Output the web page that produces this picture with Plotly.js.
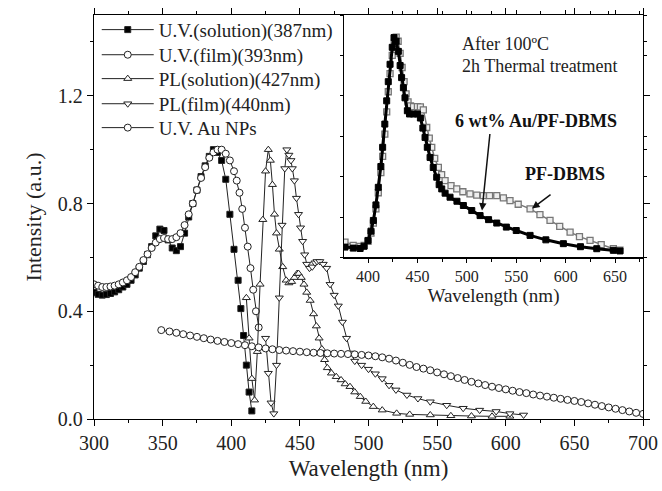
<!DOCTYPE html>
<html><head><meta charset="utf-8">
<script src="https://cdn.plot.ly/plotly-3.0.1.min.js"></script>
<style>html,body{margin:0;padding:0;background:#fff}#c{width:662px;height:491px}</style>
</head><body><div id="c"></div>
<script>
// ---- main panel data ----
const uvSolX = [300,303,306,309,312,315,318,321,324,327,330,333,336,339,342,345,348,351,354,357,360,363,366,369,372,375,378,381,384,387,390,393,396,399,402,405,407,409,411,413,415];
const uvSolY = [0.47,0.463,0.46,0.462,0.466,0.472,0.48,0.49,0.50,0.515,0.535,0.56,0.585,0.61,0.64,0.68,0.705,0.70,0.665,0.635,0.625,0.64,0.69,0.75,0.80,0.85,0.90,0.94,0.975,1.0,0.99,0.96,0.89,0.76,0.63,0.515,0.41,0.31,0.20,0.10,0.03];

const uvFilmX = [300,303,306,309,312,315,318,321,324,327,330,333,336,339,342,345,348,351,354,357,360,363,366,369,372,375,378,381,384,387,390,393,396,399,402,404,406,408,410,412,414,416,418,420];
const uvFilmY = [0.50,0.495,0.49,0.49,0.492,0.495,0.50,0.507,0.515,0.527,0.545,0.565,0.59,0.612,0.635,0.655,0.668,0.672,0.668,0.668,0.675,0.69,0.72,0.76,0.80,0.85,0.895,0.935,0.97,0.99,1.0,1.0,0.985,0.96,0.92,0.885,0.84,0.78,0.71,0.64,0.56,0.48,0.40,0.34];

const plSolX = [411,413,415,417,419,421,423,425,427,428.5,430,431.5,433,435,437.5,440,442,444,446,448,449,451,453,455,457.5,460,462,464,466,468,470,473,476.5,480,483,486.5,490,494,498,503.5,510,520.5,530,545,560,575,590,603];
const plSolY = [0.45,0.30,0.15,0.07,0.25,0.50,0.74,0.92,1.0,0.96,0.87,0.76,0.69,0.63,0.565,0.515,0.505,0.51,0.525,0.54,0.54,0.525,0.50,0.47,0.44,0.39,0.345,0.30,0.26,0.22,0.19,0.17,0.157,0.145,0.13,0.12,0.10,0.083,0.065,0.046,0.033,0.021,0.017,0.015,0.012,0.011,0.010,0.010];

const plFilmX = [425,427,429,431,433,435,437,439,440.5,442,443.5,444.5,446,447.5,449,450.5,452,453.5,455,457,459,461,462.5,464.5,467,469.5,472,475,478,481,484,487,490,495,500,505,510,515,520,528,536,545,557,569,581,593,603,613];
const plFilmY = [0.30,0.17,0.06,0.02,0.20,0.45,0.72,0.93,1.0,0.98,0.96,0.93,0.885,0.82,0.76,0.71,0.66,0.61,0.575,0.56,0.565,0.58,0.585,0.585,0.575,0.56,0.50,0.46,0.42,0.36,0.30,0.245,0.215,0.20,0.185,0.168,0.15,0.125,0.108,0.089,0.076,0.064,0.051,0.040,0.033,0.028,0.020,0.015];

const auX = [349,355,360,365,370,375,380,385,390,395,400,405,410,415,420,425,430,435,440,445,450,455,460,465,470,475,480,485,490,495,500,505,510,515,520,525,530,535,540,545,550,555,560,565,570,575,580,585,590,595,600,605,610,615,620,625,630,635,640,645,650,655,660,665,670,675,680,685,690,695,700];
const auY = [0.33,0.325,0.32,0.315,0.31,0.305,0.30,0.295,0.29,0.286,0.282,0.278,0.274,0.27,0.266,0.262,0.259,0.256,0.254,0.252,0.25,0.248,0.246,0.245,0.244,0.243,0.242,0.241,0.24,0.238,0.236,0.233,0.229,0.224,0.217,0.209,0.201,0.193,0.187,0.181,0.173,0.166,0.159,0.152,0.145,0.138,0.132,0.126,0.12,0.115,0.11,0.105,0.10,0.096,0.091,0.087,0.083,0.079,0.075,0.071,0.067,0.063,0.058,0.053,0.048,0.043,0.038,0.033,0.028,0.023,0.019];

// ---- inset data ----
const inAuX = [376.7,385,392,396,400,403,405.4,408,410.4,413,414.8,417,418.9,420.5,422.3,424.5,426.3,428.5,430.7,432.5,434,435.8,437.4,439.8,442,446,450,453,455.5,457.7,460,462.8,466,469.5,472,474.6,478,483,490,496.5,505,513.4,522,530.3,540,550,564,580,597.7,615,631.5,648.3,655];
const inAuY = [0.051,0.046,0.044,0.055,0.084,0.13,0.183,0.26,0.347,0.45,0.545,0.66,0.775,0.87,0.956,1.04,1.088,1.07,1.02,0.95,0.89,0.84,0.79,0.726,0.71,0.71,0.71,0.69,0.64,0.594,0.545,0.495,0.445,0.397,0.36,0.339,0.318,0.298,0.278,0.257,0.232,0.207,0.187,0.17,0.15,0.133,0.109,0.087,0.068,0.053,0.043,0.035,0.032];
const inPfX = [376.7,385,392,396,400,403,405.4,408,410.4,413,414.8,417,418.9,420.5,422.3,424.5,426.5,428.5,430.5,432.5,434.5,436.5,438.5,440.5,443,446,450,453,456,459.4,462,464.5,467.5,471.2,474.5,478,484,489.8,496,503.2,510,516.7,523,530.3,537,543.7,552,564,574,584.2,594,604.5,614,624.7,636,648.3,655];
const inPfY = [0.076,0.06,0.054,0.06,0.08,0.12,0.17,0.24,0.32,0.42,0.50,0.61,0.72,0.82,0.91,1.0,1.06,1.09,1.07,1.01,0.94,0.87,0.81,0.77,0.75,0.746,0.746,0.745,0.73,0.643,0.59,0.545,0.49,0.446,0.41,0.38,0.355,0.339,0.325,0.314,0.308,0.306,0.306,0.306,0.295,0.281,0.263,0.24,0.212,0.183,0.154,0.125,0.103,0.084,0.063,0.043,0.036];

const legendNames = ['U.V.(solution)(387nm)','U.V.(film)(393nm)','PL(solution)(427nm)','PL(film)(440nm)','U.V. Au NPs'];

const serif = 'Liberation Serif, Times New Roman, serif';
const lineC = '#222';
const legIds = ['legend','legend2','legend3','legend4','legend5'];
function tr(i,x,y,symbol,fill,size){
  return {x:x,y:y,name:legendNames[i],legend:legIds[i],type:'scatter',mode:'lines+markers',
    line:{color:lineC,width:1},
    marker:{symbol:symbol,size:size||6,color:fill,line:{color:'#222',width:1}},
    xaxis:'x',yaxis:'y'};
}
const data = [
  tr(0,uvSolX,uvSolY,'square','#000',6),
  tr(1,uvFilmX,uvFilmY,'circle','#fff',7),
  tr(2,plSolX,plSolY,'triangle-up','#fff',7),
  tr(3,plFilmX,plFilmY,'triangle-down','#fff',7),
  tr(4,auX,auY,'circle','#fff',7),
  {x:inPfX,y:inPfY,type:'scatter',mode:'lines+markers',showlegend:false,xaxis:'x2',yaxis:'y2',
    line:{color:'#777',width:1.5},marker:{symbol:'square',size:6,color:'#eee',line:{color:'#777',width:1.3}}},
  {x:inAuX,y:inAuY,type:'scatter',mode:'lines+markers',showlegend:false,xaxis:'x2',yaxis:'y2',
    line:{color:'#000',width:3},marker:{symbol:'square',size:6,color:'#000',line:{color:'#000',width:1}}}
];

const ax = {showline:true,linecolor:'#000',linewidth:1.3,mirror:'ticks',ticks:'outside',tickcolor:'#000',
  showgrid:false,zeroline:false,tickfont:{family:serif,size:20,color:'#222'}};
const legendTops = [1.008,0.946,0.887,0.825,0.766];
const layout = {
  width:662,height:491,margin:{l:94,r:19,t:14,b:72},
  paper_bgcolor:'#fff',plot_bgcolor:'#fff',
  font:{family:serif,color:'#222'},
  showlegend:true,
  xaxis:Object.assign({},ax,{range:[300,700],dtick:50,tick0:300,ticklen:6,
    minor:{dtick:25,ticklen:3,ticks:'outside',tickcolor:'#000'},
    title:{text:'Wavelength (nm)',font:{family:serif,size:23,color:'#222'},standoff:6}}),
  yaxis:Object.assign({},ax,{range:[0,1.5],dtick:0.4,tick0:0,tickformat:'.1f',ticklen:6,
    minor:{dtick:0.2,ticklen:3,ticks:'outside',tickcolor:'#000'},
    title:{text:'Intensity (a.u.)',font:{family:serif,size:22,color:'#222'},standoff:10}}),
  xaxis2:Object.assign({},ax,{domain:[0.4554,1],anchor:'y2',range:[375.7,678.3],dtick:50,tick0:400,ticklen:4,
    tickfont:{family:serif,size:16,color:'#222'},
    minor:{dtick:25,ticklen:3,ticks:'outside',tickcolor:'#000'},
    title:{text:'Wavelength (nm)',font:{family:serif,size:19,color:'#222'},standoff:2}}),
  yaxis2:Object.assign({},ax,{domain:[0.4,1],anchor:'x2',range:[0,1.2],dtick:0.2,ticklen:3,showticklabels:false}),
  annotations:[
    {xref:'paper',yref:'paper',x:0.667,y:0.928,xanchor:'left',yanchor:'middle',showarrow:false,
      text:'After 100ºC',font:{family:serif,size:18,color:'#222'}},
    {xref:'paper',yref:'paper',x:0.667,y:0.874,xanchor:'left',yanchor:'middle',showarrow:false,
      text:'2h Thermal treatment',font:{family:serif,size:18,color:'#222'}},
    {xref:'paper',yref:'paper',x:0.806,y:0.738,xanchor:'center',yanchor:'middle',showarrow:false,
      text:'<b>6 wt% Au/PF-DBMS</b>',font:{family:serif,size:18,color:'#111'}},
    {xref:'paper',yref:'paper',x:0.858,y:0.607,xanchor:'center',yanchor:'middle',showarrow:false,
      text:'<b>PF-DBMS</b>',font:{family:serif,size:18,color:'#111'}},
    {xref:'x2',yref:'y2',x:515.4,y:0.232,ax:8,ay:-78,showarrow:true,arrowhead:2,arrowsize:1,arrowwidth:1.5,arrowcolor:'#111',text:''},
    {xref:'x2',yref:'y2',x:566,y:0.242,ax:20,ay:-15,showarrow:true,arrowhead:2,arrowsize:1,arrowwidth:1.5,arrowcolor:'#111',text:''}
  ]
};
legIds.forEach((id,i)=>{
  layout[id] = {x:0.005,y:legendTops[i],xanchor:'left',yanchor:'top',bgcolor:'rgba(0,0,0,0)',
    font:{family:serif,size:19,color:'#222'},itemwidth:52};
});
Plotly.newPlot('c',data,layout,{displayModeBar:false,staticPlot:true});
</script></body></html>
